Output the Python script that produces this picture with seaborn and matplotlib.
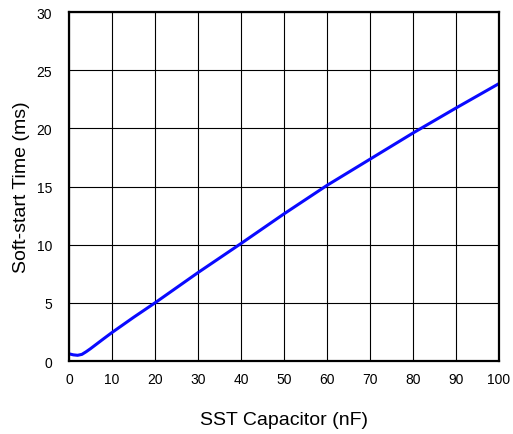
import matplotlib
matplotlib.use("Agg")
import matplotlib.pyplot as plt
import seaborn as sns
import pandas as pd

# Soft-start time versus SST capacitor value
capacitance_nf = [0, 1, 2, 3, 4, 5, 6, 8, 10, 15, 20, 30, 40, 50, 60, 70, 80, 90, 100]
softstart_ms = [0.62, 0.53, 0.49, 0.57, 0.8, 1.06, 1.34, 1.9, 2.45, 3.75, 5.0, 7.6,
                10.1, 12.65, 15.1, 17.35, 19.6, 21.75, 23.85]
x_ticks = [0, 10, 20, 30, 40, 50, 60, 70, 80, 90, 100]
y_ticks = [0, 5, 10, 15, 20, 25, 30]

sns.set_theme(style="white")
plt.rcParams["font.family"] = ["Liberation Sans", "DejaVu Sans"]

df = pd.DataFrame({"cap": capacitance_nf, "t": softstart_ms})

fig = plt.figure(figsize=(5.13, 4.35), dpi=100)
ax = fig.add_axes([0.1345, 0.1678, 0.8382, 0.8022])

sns.lineplot(data=df, x="cap", y="t", ax=ax, color="#0a0aff", linewidth=2.2)

ax.set_xlim(0, 100)
ax.set_ylim(0, 30)
ax.set_xticks(x_ticks)
ax.set_yticks(y_ticks)
ax.grid(True, color="black", linewidth=0.8)
ax.set_axisbelow(True)
for s in ax.spines.values():
    s.set_visible(True)
    s.set_color("black")
    s.set_linewidth(1.6)
ax.tick_params(axis="both", length=0, labelsize=10, colors="black")
ax.tick_params(axis="x", pad=8)
ax.tick_params(axis="y", pad=12)
ax.set_xlabel("SST Capacitor (nF)", fontsize=14, color="black", labelpad=18)
ax.set_ylabel("Soft-start Time (ms)", fontsize=14, color="black", labelpad=5)

fig.savefig("out.png", dpi=100)
